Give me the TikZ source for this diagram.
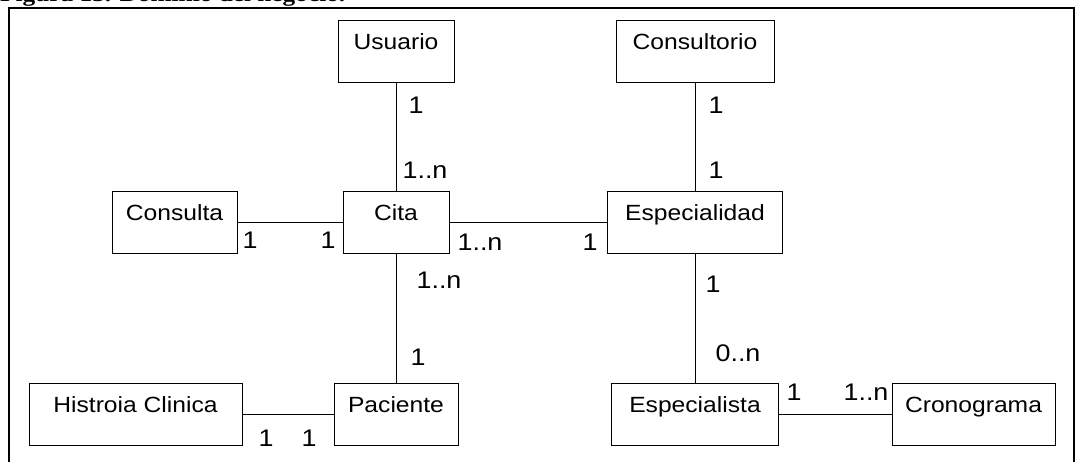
\documentclass[tikz,border=0pt]{standalone}
\usepackage{fontspec}
\setmainfont[FakeStretch=1.12]{Liberation Sans}
\newfontfamily\titlefont[FakeStretch=1.15]{Liberation Serif}
\usetikzlibrary{positioning}

\begin{document}
\begin{tikzpicture}[x=1pt, y=1pt,
    entidad/.style={draw, rectangle, line width=1pt, inner sep=0pt, anchor=north,
        text height=29pt, text depth=33pt, font=\fontsize{22}{26}\selectfont},
    mult/.style={inner sep=0pt, font=\fontsize{24}{28}\selectfont},
    enlace/.style={line width=1pt}]
    % Canvas and frame
    \useasboundingbox (0,0) rectangle (1084,-462);
    \clip (0,0) rectangle (1084,-462);
    \node[anchor=base west, inner sep=0pt, font=\titlefont\bfseries\fontsize{22}{26}\selectfont] (titulo) at (0,-2) {Figura 13. Dominio del negocio.};
    \draw[line width=1.2pt] (9,-8) rectangle (1074,-480);
    
    % Entities
    \node[entidad, minimum width=116pt] (usuario) at (396,-20) {Usuario};
    \node[entidad, minimum width=158pt] (consultorio) at (695,-20) {Consultorio};
    \node[entidad, minimum width=125pt] (consulta) at (174.5,-191) {Consulta};
    \node[entidad, minimum width=106pt] (cita) at (396,-191) {Cita};
    \node[entidad, minimum width=175pt] (especialidad) at (695,-191) {Especialidad};
    \node[entidad, minimum width=213pt] (historia) at (135.5,-383) {Histroia Clinica};
    \node[entidad, minimum width=124pt] (paciente) at (396,-383) {Paciente};
    \node[entidad, minimum width=167pt] (especialista) at (695,-383) {Especialista};
    \node[entidad, minimum width=163pt] (cronograma) at (973.5,-383) {Cronograma};
    
    % Relations
    \draw[enlace] (usuario.south) -- (cita.north);
    \draw[enlace] (consultorio.south) -- (especialidad.north);
    \draw[enlace] (consulta.east) -- (cita.west);
    \draw[enlace] (cita.east) -- (especialidad.west);
    \draw[enlace] (cita.south) -- (paciente.north);
    \draw[enlace] (especialidad.south) -- (especialista.north);
    \draw[enlace] (historia.east) -- (paciente.west);
    \draw[enlace] (especialista.east) -- (cronograma.west);
    
    % Multiplicities
    \node[mult] (u1) at (416,-105) {1};
    \node[mult] (u2) at (425,-170) {1..n};
    \node[mult] (c1) at (716,-105) {1};
    \node[mult] (c2) at (716,-170) {1};
    \node[mult] (k1) at (250,-240) {1};
    \node[mult] (k2) at (328,-240) {1};
    \node[mult] (e1) at (480,-242) {1..n};
    \node[mult] (e2) at (590,-242) {1};
    \node[mult] (p1) at (439,-280) {1..n};
    \node[mult] (p2) at (418,-357) {1};
    \node[mult] (s1) at (713,-284) {1};
    \node[mult] (s2) at (738,-353) {0..n};
    \node[mult] (h1) at (266,-438) {1};
    \node[mult] (h2) at (309,-438) {1};
    \node[mult] (r1) at (794,-392) {1};
    \node[mult] (r2) at (866,-392) {1..n};
\end{tikzpicture}
\end{document}
